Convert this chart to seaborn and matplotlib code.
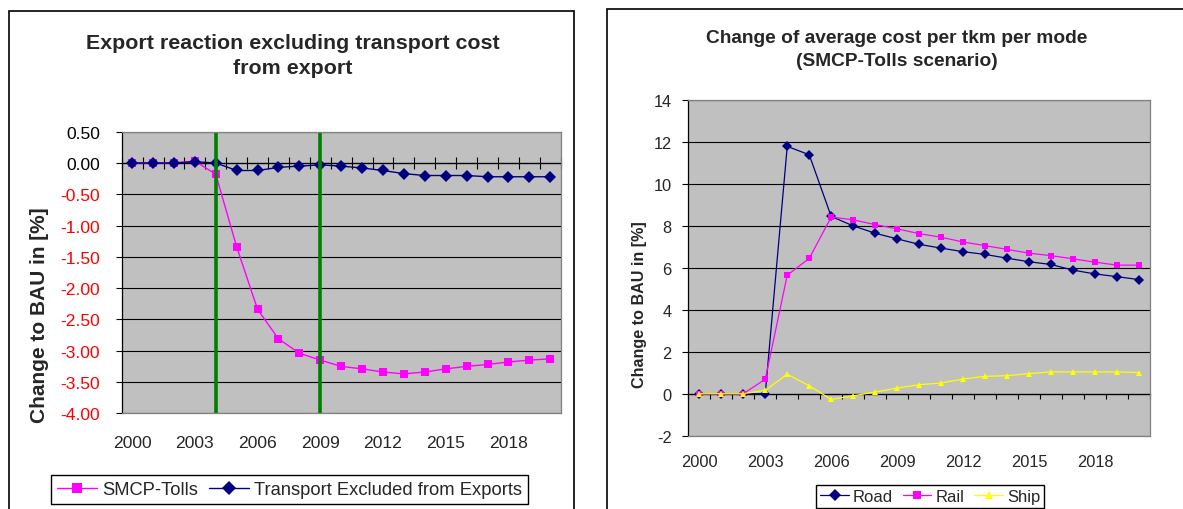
import numpy as np
import pandas as pd
import matplotlib.pyplot as plt
from matplotlib.patches import Rectangle
import seaborn as sns

# data
years = list(range(2000, 2021))
tick_years = years[::3]

# left chart: export reaction (% change to BAU)
smcp_tolls = [0.0, 0.0, 0.0, 0.03, -0.18, -1.34, -2.34, -2.81, -3.04, -3.15, -3.25,
              -3.29, -3.34, -3.37, -3.34, -3.29, -3.25, -3.22, -3.18, -3.15, -3.13]
transport_excl = [0.0, 0.0, 0.0, 0.02, 0.0, -0.12, -0.12, -0.07, -0.05, -0.03, -0.05,
                  -0.08, -0.12, -0.17, -0.20, -0.20, -0.20, -0.22, -0.22, -0.22, -0.22]
policy_years = [2004, 2009]

# right chart: average cost per tkm per mode (% change to BAU)
road = [0.0, 0.0, 0.0, 0.0, 11.79, 11.39, 8.45, 8.0, 7.65, 7.38, 7.12,
        6.94, 6.77, 6.64, 6.46, 6.29, 6.16, 5.89, 5.71, 5.58, 5.44]
rail = [0.0, 0.0, 0.0, 0.69, 5.65, 6.45, 8.42, 8.29, 8.06, 7.86, 7.63,
        7.46, 7.23, 7.06, 6.88, 6.70, 6.58, 6.43, 6.27, 6.13, 6.13]
ship = [0.0, 0.0, 0.0, 0.16, 0.93, 0.38, -0.27, -0.10, 0.08, 0.27, 0.43,
        0.51, 0.70, 0.83, 0.86, 0.96, 1.04, 1.04, 1.04, 1.04, 1.01]

left_names = ['SMCP-Tolls', 'Transport Excluded from Exports']
right_names = ['Road', 'Rail', 'Ship']

df_exp = pd.DataFrame({'year': years, left_names[0]: smcp_tolls,
                       left_names[1]: transport_excl}).melt('year', var_name='series', value_name='change')
df_cost = pd.DataFrame({'year': years, 'Road': road, 'Rail': rail,
                        'Ship': ship}).melt('year', var_name='series', value_name='change')

sns.set_style('ticks')
plt.rcParams['font.family'] = ['Liberation Sans', 'DejaVu Sans']

W, H = 1183, 510
fig = plt.figure(figsize=(W / 100, H / 100), dpi=100)
ax1 = fig.add_axes([121.7 / W, 1 - 414.3 / H, 439 / W, 281.6 / H])
ax2 = fig.add_axes([688.3 / W, 1 - 436.7 / H, 461.7 / W, 335.7 / H])

# excel-like chart frames
fig.add_artist(Rectangle((9 / W, -0.1), 565 / W, 1.1 - 12 / H, transform=fig.transFigure,
                         fill=False, ec='black', lw=1.2))
fig.add_artist(Rectangle((606.7 / W, -0.1), 0.6, 1.1 - 10 / H, transform=fig.transFigure,
                         fill=False, ec='black', lw=1.2))

# ---- left chart
sns.lineplot(data=df_exp, x='year', y='change', hue='series', style='series',
             hue_order=left_names, style_order=left_names,
             palette={left_names[0]: '#FF00FF', left_names[1]: '#000080'},
             markers={left_names[0]: 's', left_names[1]: 'D'}, dashes=False,
             markersize=6.2, markeredgewidth=0, linewidth=1, ax=ax1)
for yr in policy_years:
    ax1.axvline(yr, color='#008000', lw=2.6, zorder=2.2)

# ---- right chart
sns.lineplot(data=df_cost, x='year', y='change', hue='series', style='series',
             hue_order=right_names, style_order=right_names,
             palette={'Road': '#000080', 'Rail': '#FF00FF', 'Ship': '#FFFF00'},
             markers={'Road': 'D', 'Rail': 's', 'Ship': '^'}, dashes=False,
             markersize=4.8, markeredgewidth=0, linewidth=0.9, ax=ax2)


def style_axes(ax, ylim, yticks, ylabels, tick_fs, ypad, xpad, zero_dir, zero_len):
    ax.set_facecolor('#C0C0C0')
    ax.set_xlim(1999.5, 2020.5)
    ax.set_ylim(*ylim)
    ax.set_yticks(yticks)
    ax.set_yticklabels(ylabels, fontsize=tick_fs)
    ax.set_xticks(tick_years)
    ax.set_xticklabels([str(y) for y in tick_years], fontsize=tick_fs)
    ax.tick_params(axis='x', length=0, pad=xpad)
    ax.tick_params(axis='y', direction='out', length=4.3, width=0.8, color='black', pad=ypad)
    ax.set_axisbelow(True)
    ax.yaxis.grid(True, color='black', lw=0.8)
    ax.xaxis.grid(False)
    for side in ['top', 'right', 'bottom']:
        ax.spines[side].set_visible(True)
        ax.spines[side].set_color('#808080')
        ax.spines[side].set_linewidth(0.9)
    ax.spines['left'].set_color('black')
    ax.spines['left'].set_linewidth(0.9)
    ax.set_xlabel('')
    # category axis crossing at zero
    lo, hi = ylim
    sec = ax.secondary_xaxis((0 - lo) / (hi - lo))
    sec.set_xticks(np.arange(1999.5, 2021, 1))
    sec.tick_params(axis='x', direction=zero_dir, length=zero_len, width=0.8, colors='black',
                    labeltop=False, labelbottom=False)
    for s in sec.spines.values():
        s.set_color('black')
        s.set_linewidth(0.9)


left_ticks = np.arange(-4, 0.51, 0.5)
style_axes(ax1, (-4, 0.5), left_ticks, [f'{v:.2f}' for v in left_ticks], 12.6,
           11.3, 15.6, 'inout', 8)
for lab, v in zip(ax1.get_yticklabels(), left_ticks):
    lab.set_color('#FF0000' if v < 0 else 'black')
ax1.set_ylabel('Change to BAU in [%]', fontsize=15, fontweight='bold')
ax1.yaxis.set_label_coords(-0.166, 0.3526)

right_ticks = np.arange(-2, 14.1, 2)
style_axes(ax2, (-2, 14), right_ticks, [f'{int(v)}' for v in right_ticks], 11.8,
           7.6, 13.4, 'out', 3.6)
ax2.set_ylabel('Change to BAU in [%]', fontsize=11.6, fontweight='bold')
ax2.yaxis.set_label_coords(-0.0905, 0.394)

# titles
fig.text(292.5 / W, 1 - 34 / H, 'Export reaction excluding transport cost\nfrom export',
         ha='center', va='top', fontsize=15.4, fontweight='bold', linespacing=1.43)
fig.text(896.7 / W, 1 - 30 / H, 'Change of average cost per tkm per mode\n(SMCP-Tolls scenario)',
         ha='center', va='top', fontsize=13.8, fontweight='bold', linespacing=1.43)

# legends
sns.move_legend(ax1, 'upper center', bbox_to_anchor=(289.5 / W, 1 - 476 / H),
                bbox_transform=fig.transFigure, ncol=2, title=None, frameon=True,
                fancybox=False, edgecolor='black', framealpha=1, fontsize=13.2,
                handlelength=2.2, handletextpad=0.25, columnspacing=0.6,
                borderpad=0.33, borderaxespad=0)
sns.move_legend(ax2, 'upper center', bbox_to_anchor=(930.3 / W, 1 - 486 / H),
                bbox_transform=fig.transFigure, ncol=3, title=None, frameon=True,
                fancybox=False, edgecolor='black', framealpha=1, fontsize=12,
                handlelength=1.7, handletextpad=0.25, columnspacing=0.6,
                borderpad=0.25, borderaxespad=0)
for ax, msize in ((ax1, 7), (ax2, 6)):
    leg = ax.get_legend()
    leg.get_frame().set_linewidth(1)
    for h in leg.legend_handles:
        h.set_markeredgewidth(0)
        h.set_markersize(msize)

fig.savefig('out.png', dpi=100)
